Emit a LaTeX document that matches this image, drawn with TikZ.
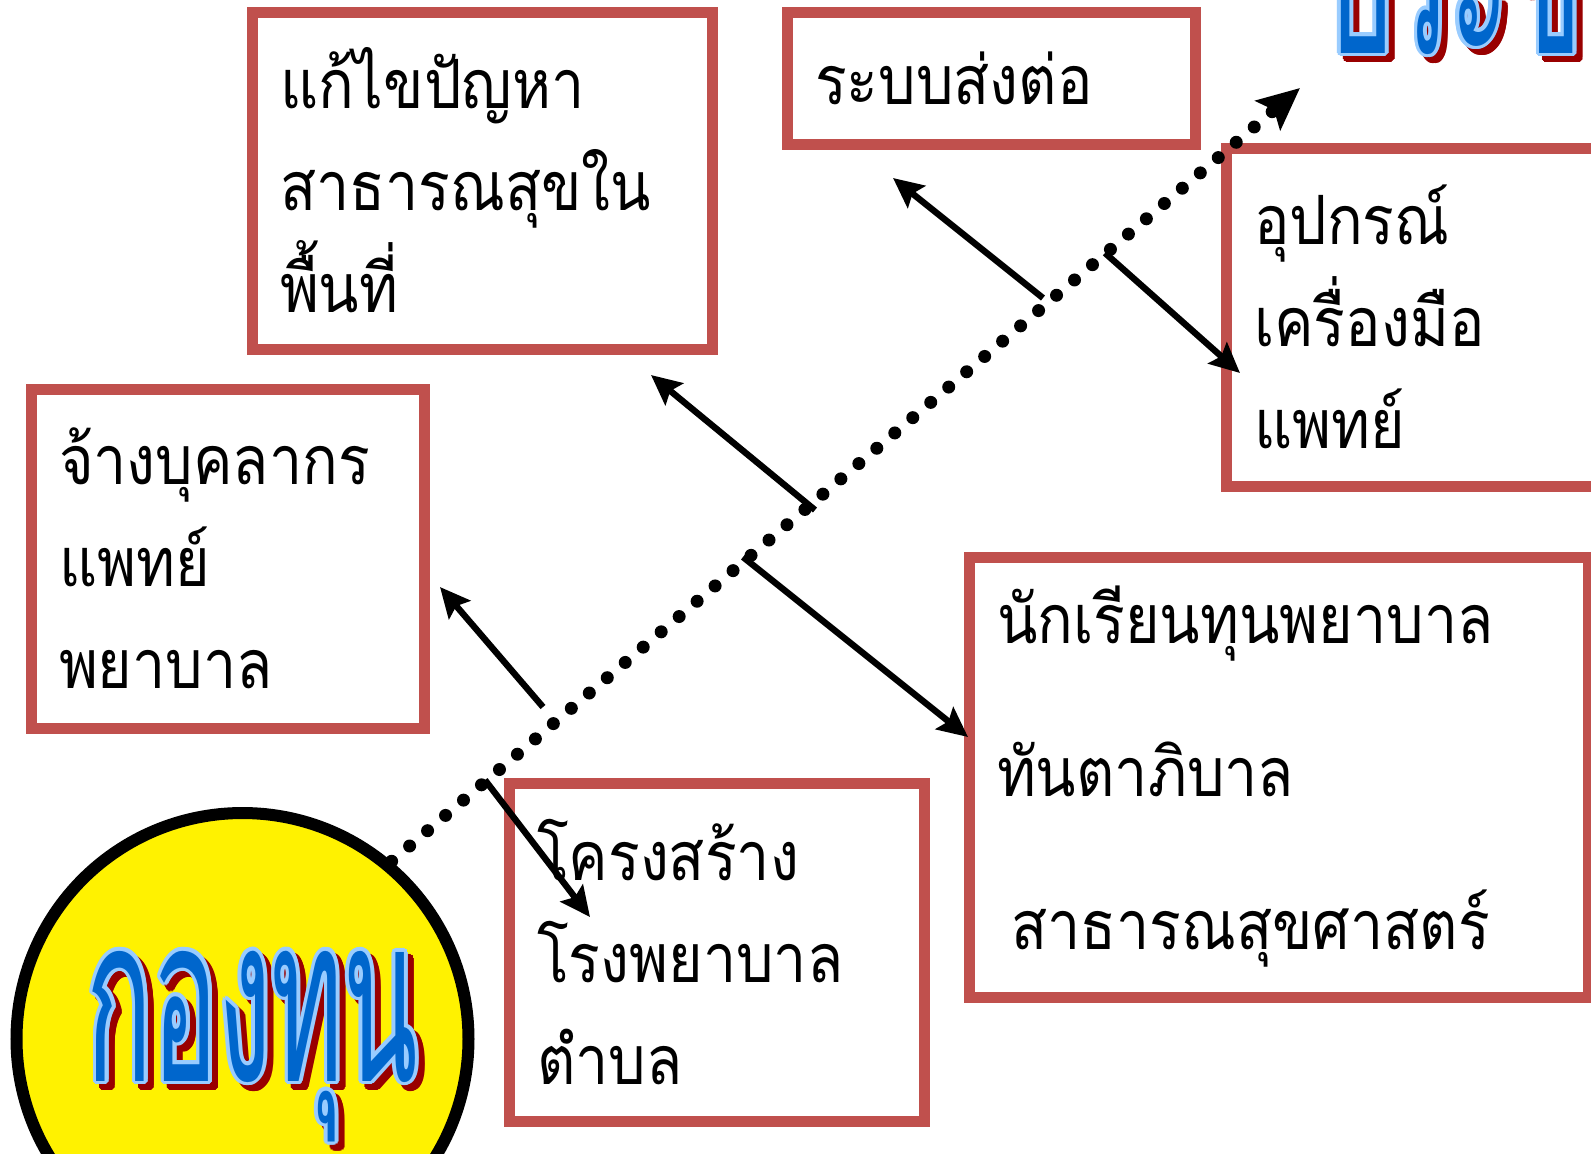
\documentclass[tikz,border=0pt]{standalone}
\usepackage{fontspec}
\usepackage{contour}
\usetikzlibrary{arrows.meta}

\newfontfamily\thaifont[Script=Thai,FakeStretch=0.87]{Loma}
\newfontfamily\titlefont[Script=Thai,FakeStretch=0.47]{Loma}

\definecolor{boxred}{RGB}{192,80,77}
\definecolor{artblue}{RGB}{0,102,204}
\definecolor{artlight}{RGB}{153,204,255}
\definecolor{artshadow}{RGB}{153,0,0}

\contourlength{1.8pt}
\newcommand{\artword}[1]{\makebox[0pt][l]{\hspace{3pt}\raisebox{-3pt}{\color{artshadow}\contour{artshadow}{#1}}}{\color{artblue}\contour{artlight}{#1}}}

\begin{document}
\begin{tikzpicture}[x=0.5pt,y=-0.5pt]
	\useasboundingbox (0,0) rectangle (1591,1153);
	\clip (0,0) rectangle (1591,1153);
	
	\tikzstyle{item}=[rectangle,draw=boxred,line width=5.5pt,align=left,inner xsep=14pt,inner ysep=0pt,font=\thaifont\fontsize{34}{51}\selectfont]
	\tikzstyle{arrow}=[line width=3.2pt,-{Stealth[length=15pt,width=14pt,inset=2.5pt]}]
	\tikzstyle{spine}=[line width=6.5pt,line cap=round,dash pattern=on 0pt off 11.8pt,-{Stealth[length=21pt,width=19pt,inset=4pt]}]
	\tikzstyle{art}=[inner sep=0pt,font=\titlefont\fontsize{116}{116}\selectfont]
	
	%Fund - yellow circle
	\node[art,circle,draw=black,line width=6pt,fill=yellow,minimum size=226pt] (fund) at (242.5,1039) {\hspace*{10pt}\raisebox{-6pt}[\height][\depth]{\artword{กองทุน}}};
	
	%Goal - top right, cut off
	\node[art,anchor=base west] (goal) at (1322,53) {\artword{ประช}};
	\coordinate (goal-tip) at (1300,88);
	
	%Boxes
	\node[item,text width=202pt,minimum height=168.5pt] (fix) at (482,180.5) {แก้ไขปัญหา\\สาธารณสุขใน\\พื้นที่};
	\node[item,text width=176pt,minimum height=66pt] (refer) at (991,78) {ระบบส่งต่อ};
	\node[item,text width=169pt,minimum height=169pt] (equip) at (1423,317) {อุปกรณ์\\เครื่องมือ\\แพทย์};
	\node[item,text width=168.5pt,minimum height=169.5pt] (staff) at (227.5,558.5) {จ้างบุคลากร\\แพทย์\\พยาบาล};
	\node[item,text width=281.5pt,minimum height=220pt,font=\thaifont\fontsize{34}{76.5}\selectfont] (nurse) at (1278.5,777) {นักเรียนทุนพยาบาล\\ทันตาภิบาล\\\hspace*{7pt}สาธารณสุขศาสตร์};
	\node[item,text width=179.5pt,minimum height=169pt] (hosp) at (716.5,952) {โครงสร้าง\\โรงพยาบาล\\ตำบล};
	
	%Spine
	\draw[spine] (fund.50) -- (goal-tip);
	
	%Arrows - tails on the spine, heads near the boxes
	\foreach \name/\x/\y in {t1/543/707, h1/440/587, t2/815/510, h2/651/375, t3/1043/298, h3/893/178, t4/1105/253, h4/1240/373, t5/743/557, h5/968/737, t6/485/780, h6/590/917}
	\coordinate (\name) at (\x,\y);
	\foreach \n in {1,...,6}
	\draw[arrow] (t\n) -- (h\n);
	
\end{tikzpicture}
\end{document}
